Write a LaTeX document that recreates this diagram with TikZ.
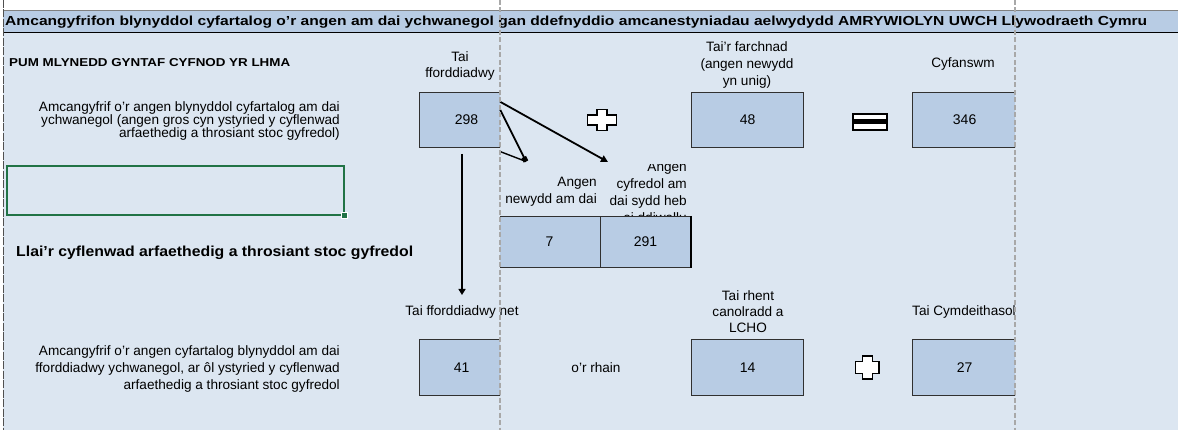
\documentclass[tikz,border=0pt]{standalone}
\usepackage{fontspec}
\usepackage{graphicx}
\setmainfont{Liberation Sans}
\usetikzlibrary{arrows.meta}
\definecolor{bg}{HTML}{DCE6F1}
\definecolor{boxfill}{HTML}{B8CCE4}
\definecolor{hdr}{HTML}{B8CCE4}
\definecolor{brk}{HTML}{A8A8A8}
\definecolor{xlgreen}{HTML}{217346}
\definecolor{edge}{HTML}{303030}
\definecolor{bord}{HTML}{505050}
\tikzset{
  cell/.style={draw=edge, line width=1.2pt, fill=boxfill, inner sep=0, anchor=north west,
    font=\fontsize{14}{16}\selectfont, text=black},
  lbl/.style={inner sep=0, text=black},
  conn/.style={line width=1.8pt, black},
  pagebreak/.style={draw=brk, line width=1.5pt, dash pattern=on 5pt off 2.5pt},
  plusshape/.style={draw=black, line width=1.5pt, fill=white, line join=miter},
}
\newcommand{\fs}[1]{\fontsize{13.6}{#1}\selectfont}
\begin{document}
\begin{tikzpicture}[x=1pt,y=-1pt]
\useasboundingbox (0,0) rectangle (1178,430);
\fill[white] (0,0) rectangle (1178,430);
% sheet background and title bar
\fill[bg] (3,33) rectangle (1178,430);
\fill[hdr] (3,10) rectangle (1178,32);
\draw[gray, line width=0.6pt] (3,10) -- (1178,10);
\draw[black, line width=1.7pt] (3,32.5) -- (1178,32.5);
\draw[bord, line width=1pt, dash pattern=on 8pt off 1.5pt] (3,0) -- (3,430);

% title and headings
\node[lbl, anchor=base west] (title) at (5,25.5)
  {\resizebox{1142pt}{9.5pt}{\bfseries Amcangyfrifon blynyddol cyfartalog o'r angen am dai ychwanegol gan ddefnyddio amcanestyniadau aelwydydd AMRYWIOLYN UWCH Llywodraeth Cymru}};
\node[lbl, anchor=base west] (pum) at (9,66.5)
  {\resizebox{281pt}{8pt}{\bfseries PUM MLYNEDD GYNTAF CYFNOD YR LHMA}};
\node[lbl, anchor=base west] (llai) at (16,257)
  {\resizebox{397pt}{10.5pt}{\bfseries Llai'r cyflenwad arfaethedig a throsiant stoc gyfredol}};

% left descriptions
\node[lbl, anchor=north east, align=right, font=\fs{13.2}] (desc1) at (340,101)
  {Amcangyfrif o'r angen blynyddol cyfartalog am dai\\ychwanegol (angen gros cyn ystyried y cyflenwad\\arfaethedig a throsiant stoc gyfredol)};
\node[lbl, anchor=north east, align=right, font=\fs{17}] (desc2) at (340,345.2)
  {Amcangyfrif o'r angen cyfartalog blynyddol am dai\\fforddiadwy ychwanegol, ar ôl ystyried y cyflenwad\\arfaethedig a throsiant stoc gyfredol};

% selected (green) cell
\draw[xlgreen, line width=2pt] (7,166) rectangle (344,215);
\fill[xlgreen, draw=white, line width=0.6pt] (341,212) rectangle (347,218);

% column labels
\node[lbl, anchor=north, align=center, font=\fs{16.5}] (lTai) at (460,51) {Tai\\fforddiadwy};
\node[lbl, anchor=north, align=center, font=\fs{17}] (lFarch) at (747,41.2) {Tai'r farchnad\\(angen newydd\\yn unig)};
\node[lbl, anchor=base, font=\fs{16}] (lCyf) at (963,68) {Cyfanswm};
\node[lbl, anchor=north east, align=right, font=\fs{17}] (lNew) at (597,177.2) {Angen\\newydd am dai};
\begin{scope}
  \clip (560,165) rectangle (700,216);
  \node[lbl, anchor=north east, align=right, font=\fs{17}] (lCur) at (687,162.2) {Angen\\cyfredol am\\dai sydd heb\\ei ddiwallu};
\end{scope}
\node[lbl, anchor=base, font=\fs{16}] (lNet) at (462,316) {Tai fforddiadwy net};
\node[lbl, anchor=north, align=center, font=\fs{16}] (lRhent) at (748,290.2) {Tai rhent\\canolradd a\\LCHO};
\node[lbl, anchor=base west, font=\fs{16}] (lCym) at (912,316) {Tai Cymdeithasol};
\node[lbl, anchor=base, font=\fs{16}] (lRhain) at (596,372) {o'r rhain};

% value boxes
\begin{scope}
  \clip (0,0) rectangle (500,430);
  \node[cell, minimum width=94pt, minimum height=55pt] (b298) at (419,92) {298};
  \node[cell, minimum width=84pt, minimum height=56pt] (b41) at (419,339) {41};
\end{scope}
\node[cell, minimum width=112pt, minimum height=55pt] (b48) at (691,92) {48};
\begin{scope}
  \clip (0,0) rectangle (1015,430);
  \node[cell, minimum width=104pt, minimum height=55pt] (b346) at (912,92) {346};
  \node[cell, minimum width=104pt, minimum height=56pt] (b27) at (912,339) {27};
\end{scope}
\begin{scope}
  \clip (500,0) rectangle (1178,430);
  \node[cell, minimum width=102pt, minimum height=51pt] (b7) at (498,216) {7};
\end{scope}
\node[cell, minimum width=90pt, minimum height=51pt] (b291) at (600,216) {291};
\draw[black, line width=2.2pt] (b291.north east) -- (b291.south east);
\node[cell, minimum width=112pt, minimum height=56pt] (b14) at (691,339) {14};

% operators
\draw[plusshape] (597,109.5) -- (607,109.5) -- (607,115) -- (616.5,115) -- (616.5,125) -- (607,125)
  -- (607,130.5) -- (597,130.5) -- (597,125) -- (587.5,125) -- (587.5,115) -- (597,115) -- cycle;
\draw[plusshape] (862.3,355.8) -- (872.3,355.8) -- (872.3,361.7) -- (879,361.7) -- (879,373.3) -- (872.3,373.3)
  -- (872.3,379.2) -- (862.3,379.2) -- (862.3,373.3) -- (855.7,373.3) -- (855.7,361.7) -- (862.3,361.7) -- cycle;
\fill[black] (852,113) rectangle (888,131);
\fill[white] (854,115) rectangle (886,119.5);
\fill[white] (854,124.5) rectangle (886,129);

% connectors
\coordinate (vS) at (462,154);
\coordinate (vE) at (462,295);
\coordinate (aS) at (500,101.7);
\coordinate (aE) at (608,162);
\coordinate (bS) at (500,109.3);
\coordinate (bE) at (526,161.5);
\coordinate (cS) at (500,151.5);
\draw[conn, -{Triangle[length=6pt,width=7pt]}] (vS) -- (vE);
\draw[conn, -{Triangle[length=7pt,width=7pt]}] (aS) -- (aE);
\draw[conn, -{Square[length=5pt,width=5pt]}] (bS) -- (bE);
\draw[line width=1.4pt, black] (cS) -- (bE);

% page breaks
\draw[pagebreak] (500,0) -- (500,430);
\draw[pagebreak] (1015,0) -- (1015,430);
\end{tikzpicture}
\end{document}
